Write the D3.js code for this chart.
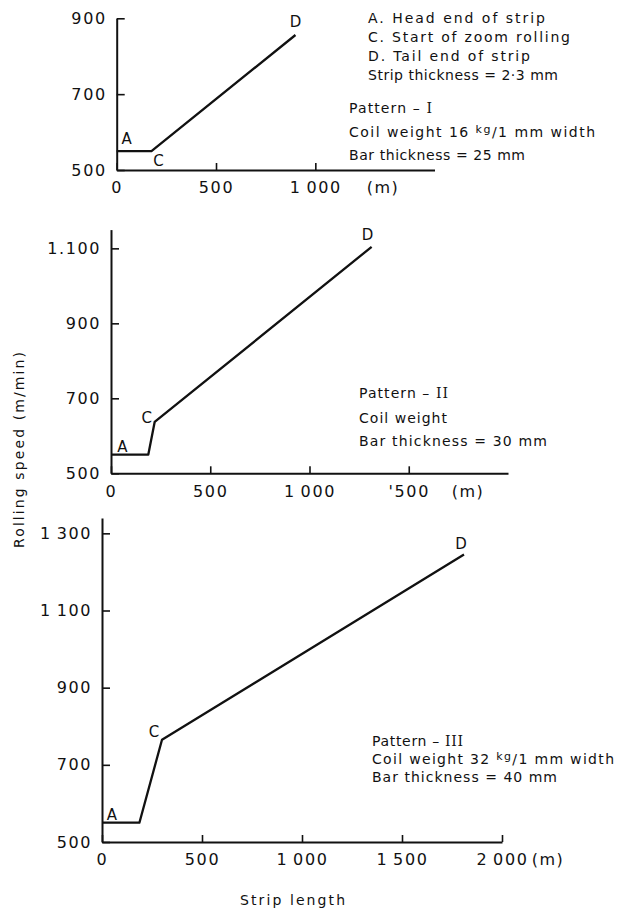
<!DOCTYPE html>
<html>
<head>
<meta charset="utf-8">
<script src="https://cdn.jsdelivr.net/npm/d3@7"></script>
<style>
  body { margin: 0; background: #fff; }
  svg { display: block; }
  text { font-family: "DejaVu Sans", sans-serif; fill: #111; }
  .tick text { font-size: 16px; letter-spacing: 1.6px; }
  .note { font-size: 14px; }
  .pt { font-size: 15px; }
</style>
</head>
<body>
<div id="chart"></div>
<script>
// DATA
// strip length (m) / rolling speed (m/min), points A, A', C, D
const lengthI   = [0, 175, 900];
const speedI    = [550, 550, 856];
const lengthII  = [0, 188, 220, 1313];
const speedII   = [550, 550, 637, 1104];
const lengthIII = [0, 187, 300, 1810];
const speedIII  = [550, 550, 765, 1245];

const pointNamesI   = ["A", "C", "D"];
const pointNamesII  = ["A", "C", "D"];
const pointNamesIII = ["A", "C", "D"];

const xTicksI   = [0, 500, 1000];
const xLabelsI  = ["0", "500", "1\u2009000"];
const xTicksII  = [0, 500, 1000, 1500];
const xLabelsII = ["0", "500", "1\u2009000", "'500"];
const xTicksIII  = [0, 500, 1000, 1500, 2000];
const xLabelsIII = ["0", "500", "1\u2009000", "1\u2009500", "2\u2009000"];

const yTicksI   = [500, 700, 900];
const yLabelsI  = ["500", "700", "900"];
const yTicksII  = [500, 700, 900, 1100];
const yLabelsII = ["500", "700", "900", "1.100"];
const yTicksIII  = [500, 700, 900, 1100, 1300];
const yLabelsIII = ["500", "700", "900", "1\u2009100", "1\u2009300"];

const legendLines = ["A. Head end of strip", "C. Start of zoom rolling", "D. Tail end of strip", "Strip thickness = 2·3 mm"];

// CONFIGURATION (layout only)
const width = 629, height = 911;
const legendWidths = [177, 202, 162, 190];   // measured text lengths

const panels = [
  {
    len: lengthI, speed: speedI, names: pointNamesI,
    xTicks: xTicksI, xLabels: xLabelsI, yTicks: yTicksI, yLabels: yLabelsI,
    xDomain: [0, 1600], xRange: [116.7, 434.5],
    yDomain: [500, 900], yRange: [170, 18.3],
    unitX: 383,
    // label offsets from A, C, D
    offsets: [[10, -12], [7, 10], [0, -13]],
    note: { x: 349, y: [108, 132, 155], numeral: "I", coil: ["Coil weight 16 ", "kg", "/1 mm  width"], bar: "Bar thickness = 25 mm",
            w: [83, 246, 176] }
  },
  {
    len: lengthII, speed: speedII, names: pointNamesII,
    xTicks: xTicksII, xLabels: xLabelsII, yTicks: yTicksII, yLabels: yLabelsII,
    xDomain: [0, 2000], xRange: [111, 508],
    yDomain: [500, 1150], yRange: [473.3, 229.6],
    unitX: 468,
    offsets: [[11.5, -8], [-8, -4], [-4, -12]],
    note: { x: 359, y: [393, 418, 441], numeral: "II", coil: ["Coil weight"], bar: "Bar thickness = 30 mm",
            w: [89, 88, 188] }
  },
  {
    len: lengthIII, speed: speedIII, names: pointNamesIII,
    xTicks: xTicksIII, xLabels: xLabelsIII, yTicks: yTicksIII, yLabels: yLabelsIII,
    xDomain: [0, 2000], xRange: [102, 502],
    yDomain: [500, 1340], yRange: [842, 517.9],
    unitX: 548,
    offsets: [[10, -8], [-8, -8], [-3, -11]],
    note: { x: 372, y: [741, 759, 777], numeral: "III", coil: ["Coil weight 32 ", "kg", "/1 mm width"], bar: "Bar thickness = 40 mm",
            w: [91, 242, 185] }
  }
];

const svg = d3.select("#chart").append("svg")
  .attr("width", width)
  .attr("height", height);

const line = d3.line();

// text stretched to the width it has in the original
function fitText(sel, w) {
  return sel.attr("textLength", w).attr("lengthAdjust", "spacing");
}

panels.forEach(p => {
  const x = d3.scaleLinear().domain(p.xDomain).range(p.xRange);
  const y = d3.scaleLinear().domain(p.yDomain).range(p.yRange);
  const g = svg.append("g");

  // Y axis, ticks pointing inward
  const yAxis = g.append("g")
    .attr("transform", `translate(${p.xRange[0]},0)`)
    .call(d3.axisLeft(y).tickValues(p.yTicks)
      .tickFormat((d, i) => p.yLabels[i])
      .tickSize(-8).tickSizeOuter(0).tickPadding(10));

  // X axis, ticks pointing up
  const xAxis = g.append("g")
    .attr("transform", `translate(0,${p.yRange[0]})`)
    .call(d3.axisBottom(x).tickValues(p.xTicks)
      .tickFormat((d, i) => p.xLabels[i])
      .tickSize(-7).tickSizeOuter(0).tickPadding(12));

  [yAxis, xAxis].forEach(a => {
    a.select(".domain").attr("stroke", "#111").attr("stroke-width", 2);
    a.selectAll(".tick line").attr("stroke", "#111").attr("stroke-width", 1.6);
    a.selectAll(".tick text").attr("fill", "#111");
  });

  // unit after the last x label
  g.append("text")
    .attr("x", p.unitX).attr("y", p.yRange[0] + 12)
    .attr("dy", "0.71em").attr("text-anchor", "middle")
    .style("font-size", "16px").style("letter-spacing", "1.5px")
    .text("(m)");

  // speed pattern
  const pts = p.len.map((d, i) => [x(d), y(p.speed[i])]);
  g.append("path")
    .attr("d", line(pts))
    .attr("fill", "none")
    .attr("stroke", "#111")
    .attr("stroke-width", 2.3)
    .attr("stroke-linejoin", "round");

  // A, C, D markers (A = first point, C = knee, D = last)
  const keyIdx = [0, p.len.length - 2, p.len.length - 1];
  keyIdx.forEach((k, j) => {
    g.append("text").attr("class", "pt")
      .attr("x", pts[k][0] + p.offsets[j][0])
      .attr("y", pts[k][1] + p.offsets[j][1])
      .attr("text-anchor", "middle")
      .attr("dominant-baseline", "central")
      .text(p.names[j]);
  });

  // pattern description
  const n = p.note;
  const t1 = g.append("text").attr("class", "note")
    .attr("x", n.x).attr("y", n.y[0]).attr("dominant-baseline", "central");
  t1.append("tspan").text("Pattern – ");
  t1.append("tspan").style("font-family", "'DejaVu Serif', serif")
    .text(n.numeral);
  fitText(t1, n.w[0]);

  const t2 = g.append("text").attr("class", "note")
    .attr("x", n.x).attr("y", n.y[1]).attr("dominant-baseline", "central");
  n.coil.forEach((s, i) => {
    const ts = t2.append("tspan").text(s);
    if (i === 1) ts.style("font-size", "11px").attr("dy", -3);
    if (i === 2) ts.attr("dy", 3);
  });
  fitText(t2, n.w[1]);

  fitText(g.append("text").attr("class", "note")
    .attr("x", n.x).attr("y", n.y[2]).attr("dominant-baseline", "central")
    .text(n.bar), n.w[2]);
});

// legend of point names
svg.append("g").selectAll("text")
  .data(legendLines)
  .join("text")
  .attr("class", "note")
  .attr("x", 368)
  .attr("y", (d, i) => 18 + i * 19)
  .attr("dominant-baseline", "central")
  .attr("textLength", (d, i) => legendWidths[i])
  .attr("lengthAdjust", "spacing")
  .text(d => d);

// axis titles
fitText(svg.append("text").attr("class", "note")
  .attr("transform", "translate(18.5,450) rotate(-90)")
  .attr("x", -98)
  .attr("dominant-baseline", "central")
  .text("Rolling speed  (m/min)"), 196);

fitText(svg.append("text").attr("class", "note")
  .attr("x", 240).attr("y", 900)
  .attr("dominant-baseline", "central")
  .text("Strip length"), 105);
</script>
</body>
</html>
